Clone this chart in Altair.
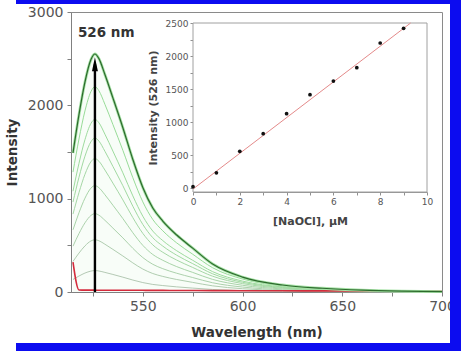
import altair as alt
import pandas as pd

# Emission wavelengths (nm) at which each spectrum is sampled
wavelength = [515, 518, 521, 524, 526, 528, 531, 535, 540, 545, 550,
              555, 560, 567, 575, 585, 600, 620, 640, 660, 680, 700]

# Fluorescence spectra, one list per NaOCl concentration (µM)
spec_0uM = [320, 22, 20, 20, 20, 19, 19, 19, 18, 18, 18, 17, 17, 16, 16, 15, 14, 13, 12, 11, 10, 10]
spec_1uM = [134, 171, 203, 224, 230, 225, 210, 188, 159, 128, 101, 81, 69, 55, 42, 27, 14, 7, 4, 2, 1, 0]
spec_2uM = [327, 417, 494, 547, 560, 549, 512, 457, 386, 312, 246, 198, 167, 134, 103, 66, 35, 16, 9, 4, 2, 1]
spec_3uM = [491, 626, 741, 820, 840, 823, 768, 685, 580, 468, 369, 297, 250, 201, 155, 99, 53, 24, 13, 7, 3, 2]
spec_4uM = [666, 849, 1005, 1113, 1140, 1117, 1042, 930, 787, 635, 500, 402, 340, 272, 210, 135, 72, 33, 18, 9, 5, 2]
spec_5uM = [835, 1065, 1261, 1396, 1430, 1401, 1307, 1167, 987, 797, 628, 505, 426, 342, 263, 169, 90, 41, 23, 11, 6, 3]
spec_6uM = [964, 1229, 1455, 1610, 1650, 1617, 1508, 1346, 1139, 919, 724, 582, 492, 394, 304, 195, 104, 48, 26, 13, 7, 3]
spec_7uM = [1080, 1378, 1632, 1806, 1850, 1813, 1691, 1510, 1277, 1030, 812, 653, 551, 442, 340, 218, 117, 54, 30, 15, 7, 4]
spec_8uM = [1285, 1639, 1940, 2147, 2200, 2156, 2011, 1795, 1518, 1225, 966, 777, 656, 526, 405, 260, 139, 64, 35, 18, 9, 4]
spec_9uM = [1490, 1900, 2250, 2490, 2550, 2500, 2330, 2080, 1760, 1420, 1120, 900, 760, 610, 470, 300, 160, 75, 40, 20, 10, 5]

# Intensity at 526 nm against NaOCl concentration, with its linear fit
naocl_uM = [0, 1, 2, 3, 4, 5, 6, 7, 8, 9]
intensity_526 = [20, 230, 556, 824, 1127, 1415, 1621, 1824, 2197, 2420]
fit_x = [0, 9.3]
fit_y = [-15, 2500]

# Arrow and peak label
peak_nm = 526
arrow_top = 2440
label_text = "526 nm"
label_pos = (517.5, 2773)

FONT = "DejaVu Sans"
BLUE = "#0c0cf0"

green_specs = {1: spec_1uM, 2: spec_2uM, 3: spec_3uM, 4: spec_4uM,
               5: spec_5uM, 6: spec_6uM, 7: spec_7uM, 8: spec_8uM}
green_cols = ["#b4c9b4", "#b0cdb0", "#acd1ac", "#a9d4a9",
              "#a6d7a6", "#a2d9a2", "#9edb9e", "#98dc98"]

df_green = pd.DataFrame([
    {"wl": w, "I": v, "c": str(c)}
    for c, s in green_specs.items() for w, v in zip(wavelength, s)
])
df_top = pd.DataFrame({"wl": wavelength, "I": spec_9uM})
df_red = pd.DataFrame({"wl": wavelength, "I": spec_0uM})
df_arrow = pd.DataFrame({"wl": [peak_nm], "I": [0], "I2": [arrow_top]})
df_head = pd.DataFrame({"wl": [peak_nm], "I": [arrow_top]})
df_label = pd.DataFrame({"wl": [label_pos[0]], "I": [label_pos[1]], "t": [label_text]})

X_MAIN = alt.X(
    "wl:Q",
    scale=alt.Scale(domain=[514, 700], nice=False, zero=False),
    axis=alt.Axis(
        title="Wavelength (nm)",
        values=[525, 550, 575, 600, 625, 650, 675, 700],
        labelExpr="datum.value % 50 === 0 ? datum.label : ''",
        tickSize=4, labelPadding=3, labelFontSize=14, labelFont=FONT,
        labelColor="#555555", titleFont=FONT, titleFontSize=13.5,
        titleFontWeight="bold", titleColor="#333333", titlePadding=12,
        domainColor="#808080", tickColor="#808080", grid=False,
        labelFlush=False,
    ),
)
Y_MAIN = alt.Y(
    "I:Q",
    scale=alt.Scale(domain=[0, 3000], nice=False),
    axis=alt.Axis(
        title="Intensity",
        values=[0, 500, 1000, 1500, 2000, 2500, 3000],
        labelExpr="datum.value % 1000 === 0 ? datum.label : ''",
        format="d",
        tickSize=4, labelPadding=4, labelFontSize=14, labelFont=FONT,
        labelColor="#555555", titleFont=FONT, titleFontSize=13.5,
        titleFontWeight="bold", titleColor="#333333", titlePadding=8,
        domainColor="#808080", tickColor="#808080", grid=False,
        labelFlush=False,
    ),
)

# Blue picture frame: strips along the top, right and bottom edges
one_row = pd.DataFrame({"k": [0]})
frame_top = alt.Chart(one_row).mark_rect(color=BLUE).encode(
    x=alt.value(-55), x2=alt.value(390), y=alt.value(-12), y2=alt.value(-8)
)
frame_right = alt.Chart(one_row).mark_rect(color=BLUE).encode(
    x=alt.value(379), x2=alt.value(390), y=alt.value(-12), y2=alt.value(339)
)
frame_bottom = alt.Chart(one_row).mark_rect(color=BLUE).encode(
    x=alt.value(-55), x2=alt.value(390), y=alt.value(331), y2=alt.value(339)
)

green_lines = alt.Chart(df_green).mark_line(
    interpolate="monotone", strokeWidth=1
).encode(
    x=X_MAIN, y=Y_MAIN,
    color=alt.Color("c:N", scale=alt.Scale(domain=[str(k) for k in green_specs], range=green_cols), legend=None),
)

top_fill = alt.Chart(df_top).mark_area(
    interpolate="monotone", color="#d2f2d2", opacity=0.15
).encode(x=X_MAIN, y=Y_MAIN)

top_halo = alt.Chart(df_top).mark_line(
    interpolate="monotone", strokeWidth=2.8, color="#a6e2a6"
).encode(x=X_MAIN, y=Y_MAIN)

top_line = alt.Chart(df_top).mark_line(
    interpolate="monotone", strokeWidth=1.2, color="#2c6a2c"
).encode(x=X_MAIN, y=Y_MAIN)

red_line = alt.Chart(df_red).mark_line(
    interpolate="monotone", strokeWidth=1.6, color="#d42a3c"
).encode(x=X_MAIN, y=Y_MAIN)

arrow_shaft = alt.Chart(df_arrow).mark_rule(
    strokeWidth=2.4, color="#000000"
).encode(x=X_MAIN, y=Y_MAIN, y2="I2:Q")

arrow_head = alt.Chart(df_head).mark_point(
    shape="M0,-1L0.42,1L-0.42,1Z", filled=True, size=200,
    color="#000000", opacity=1
).encode(x=X_MAIN, y=Y_MAIN)

peak_label = alt.Chart(df_label).mark_text(
    align="left", baseline="middle", font=FONT, fontSize=13.5,
    fontWeight="bold", color="#333333"
).encode(x=X_MAIN, y=Y_MAIN, text="t:N")

main = alt.layer(frame_top, frame_right, frame_bottom, top_fill, green_lines,
                 red_line, top_halo, top_line, arrow_shaft, arrow_head, peak_label)

# Inset: peak intensity versus NaOCl
X_IN = alt.X(
    "c:Q",
    scale=alt.Scale(domain=[0, 10], range=[122, 356], nice=False, zero=False),
    axis=alt.Axis(
        orient="bottom", offset=-100, title="[NaOCl], µM",
        values=list(range(0, 11)),
        labelExpr="datum.value % 2 === 0 ? datum.label : ''",
        tickSize=3, labelPadding=2, labelFontSize=9, labelFont=FONT,
        labelColor="#555555", titleFont=FONT, titleFontSize=11,
        titleFontWeight="bold", titleColor="#444444", titlePadding=9,
        domainColor="#909090", tickColor="#909090", grid=False,
        labelFlush=False,
    ),
)
Y_IN = alt.Y(
    "v:Q",
    scale=alt.Scale(domain=[-60, 2500], range=[180, 11], nice=False, zero=False),
    axis=alt.Axis(
        orient="left", offset=-122, title="Intensity (526 nm)",
        values=list(range(0, 2501, 250)),
        labelExpr="datum.value % 500 === 0 ? datum.label : ''",
        format="d",
        tickSize=3, labelPadding=2, labelFontSize=9, labelFont=FONT,
        labelColor="#555555", titleFont=FONT, titleFontSize=11,
        titleFontWeight="bold", titleColor="#444444", titlePadding=7,
        domainColor="#909090", tickColor="#909090", grid=False,
        labelFlush=False,
    ),
)

df_box = pd.DataFrame({"c": [0], "c2": [10], "v": [-60], "v2": [2500]})
df_pts = pd.DataFrame({"c": naocl_uM, "v": intensity_526})
df_fit = pd.DataFrame({"c": fit_x, "v": fit_y})

inset_box = alt.Chart(df_box).mark_rect(
    fill="#ffffff", stroke="#a0a0a0", strokeWidth=1
).encode(x=X_IN, x2="c2:Q", y=Y_IN, y2="v2:Q")

inset_fit = alt.Chart(df_fit).mark_line(
    color="#e48a8a", strokeWidth=1
).encode(x=X_IN, y=Y_IN)

inset_pts = alt.Chart(df_pts).mark_circle(
    size=14, color="#111111", opacity=1
).encode(x=X_IN, y=Y_IN)

inset = alt.layer(inset_box, inset_fit, inset_pts)

chart = alt.layer(main, inset).resolve_scale(
    x="independent", y="independent"
).properties(
    width=371, height=280,
    autosize=alt.AutoSizeParams(type="none"),
    padding={"left": 71, "top": 12, "right": 19, "bottom": 59},
    background="#ffffff",
).configure_view(
    stroke="#8a8a8a", strokeWidth=1
)

chart.save("out.html", embed_options={"renderer": "svg", "actions": False})
